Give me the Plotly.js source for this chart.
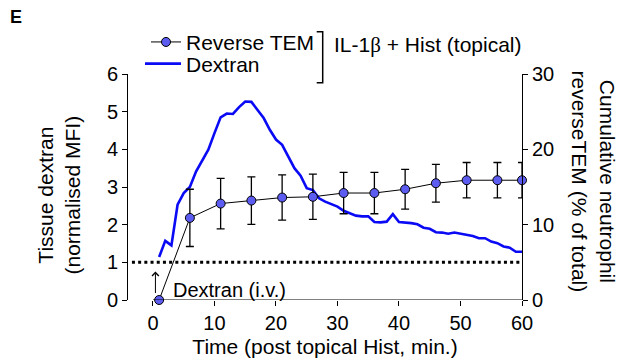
<!DOCTYPE html>
<html>
<head>
<meta charset="utf-8">
<script src="https://cdn.plot.ly/plotly-3.0.1.min.js"></script>
<style>html,body{margin:0;padding:0;background:#fff;}#chart{width:618px;height:362px;}</style>
</head>
<body>
<div id="chart"></div>
<script>
// Dextran (tissue, normalised MFI) - left axis
const dexTime = [1,2,3,4,5,6,7,8,9,10,11,12,13,14,15,16,17,18,19,20,21,22,23,24,25,26,27,28,29,30,31,32,33,34,35,36,37,38,39,40,41,42,43,44,45,46,47,48,49,50,51,52,53,54,55,56,57,58,59,60];
const dexValue = [1.14,1.57,1.45,2.53,2.84,3.0,3.41,3.72,3.99,4.43,4.85,4.95,4.94,5.12,5.27,5.26,5.05,4.83,4.52,4.26,4.12,3.81,3.50,3.30,2.97,2.92,2.70,2.61,2.55,2.48,2.37,2.30,2.24,2.22,2.22,2.07,2.06,2.08,2.28,2.07,2.06,2.04,2.01,1.92,1.89,1.80,1.79,1.76,1.79,1.76,1.75,1.70,1.64,1.64,1.55,1.51,1.42,1.39,1.28,1.28];

// Cumulative neutrophil reverse TEM (% of total) - right axis
const temTime = [1,6,11,16,21,26,31,36,41,46,51,56,60];
const temValue = [0,10.9,12.8,13.2,13.6,13.7,14.2,14.2,14.7,15.5,15.9,15.9,15.9];
const temError = [0,3.8,3.35,3.15,3.0,3.0,2.75,2.75,2.65,2.5,2.35,2.35,2.35];

const xTicks = [0,10,20,30,40,50,60];
const yLeftTicks = [0,1,2,3,4,5,6];
const yRightTicks = [0,10,20,30];
const baselineLevel = 1;

const FONT = 'Liberation Sans, Arial, Helvetica, sans-serif';
const TXT = 21;

const traces = [
  {
    x: dexTime, y: dexValue, name: 'Dextran', type: 'scatter', mode: 'lines',
    line: {color: 'rgb(10,10,245)', width: 2.6}, yaxis: 'y', legend: 'legend2',
    hoverinfo: 'skip'
  },
  {
    x: temTime, y: temValue, name: 'Reverse TEM', type: 'scatter', mode: 'lines+markers',
    line: {color: '#000', width: 1},
    marker: {size: 9, color: 'rgb(92,92,240)', line: {color: '#000', width: 1}},
    error_y: {type: 'data', array: temError, visible: true, color: '#000', thickness: 1.3, width: 4},
    yaxis: 'y2', legend: 'legend', cliponaxis: false, hoverinfo: 'skip'
  }
];

const L = 128, R = 522, T = 74, B = 300;
const px = v => (v - L) / (R - L);
const py = v => (B - v) / (B - T);
const yv = p => (B - p) / ((B - T) / 6);

const layout = {
  width: 618, height: 362,
  margin: {l: L, r: 618 - R, t: T, b: 362 - B, pad: 0},
  paper_bgcolor: '#fff', plot_bgcolor: '#fff',
  font: {family: FONT, size: 20, color: '#000'},
  title: {text: '<b>E</b>', font: {family: FONT, size: 18, color: '#000'},
    xref: 'container', yref: 'container', x: 10/618, xanchor: 'left', y: 1 - 17/362, yanchor: 'middle'},
  showlegend: true,
  legend: {x: px(146), xanchor: 'left', y: py(42.3), yanchor: 'middle', bgcolor: 'rgba(0,0,0,0)',
    font: {family: FONT, size: TXT, color: '#000'}, itemwidth: 30, borderwidth: 0},
  legend2: {x: px(140), xanchor: 'left', y: py(64), yanchor: 'middle', bgcolor: 'rgba(0,0,0,0)',
    font: {family: FONT, size: TXT, color: '#000'}, itemwidth: 36, borderwidth: 0},
  xaxis: {
    range: [-4.06, 60], tickvals: xTicks, ticktext: xTicks.map(String),
    ticks: 'outside', ticklen: 5, tickwidth: 1, tickcolor: '#000',
    showline: false, showgrid: false, zeroline: false,
    tickfont: {family: FONT, size: 20, color: '#000'},
    title: {text: 'Time (post topical Hist, min.)', font: {family: FONT, size: TXT, color: '#000'}, standoff: 6}
  },
  yaxis: {
    range: [0, 6], tickvals: yLeftTicks, ticktext: yLeftTicks.map(String),
    ticks: 'outside', ticklen: 5, tickwidth: 1, tickcolor: '#000',
    showline: true, linecolor: '#000', linewidth: 1,
    showgrid: false, zeroline: false,
    tickfont: {family: FONT, size: 20, color: '#000'}
  },
  yaxis2: {
    range: [0, 30], tickvals: yRightTicks, ticktext: yRightTicks.map(String),
    overlaying: 'y', side: 'right', anchor: 'x',
    ticks: 'outside', ticklen: 5, tickwidth: 1, tickcolor: '#000',
    showline: true, linecolor: '#000', linewidth: 1,
    showgrid: false, zeroline: false,
    tickfont: {family: FONT, size: 20, color: '#000'}
  },
  shapes: [
    {type: 'line', xref: 'x', yref: 'y', x0: 0, x1: 60, y0: 0, y1: 0, line: {color: '#000', width: 1}},
    {type: 'line', xref: 'paper', yref: 'y', x0: 0.01, x1: 0.995, y0: baselineLevel, y1: baselineLevel,
      line: {color: '#000', width: 3, dash: '3px,3.2px'}},
    {type: 'path', xref: 'paper', yref: 'paper',
      path: `M${px(316.7)},${py(31.7)} L${px(322.7)},${py(31.7)} L${px(322.7)},${py(82.7)} L${px(316.7)},${py(82.7)}`,
      line: {color: '#000', width: 1.5}}
  ],
  annotations: [
    {text: 'Tissue dextran<br>(normalised MFI)', xref: 'paper', yref: 'paper', x: px(58.5), y: py(195),
      textangle: -90, showarrow: false, xanchor: 'center', yanchor: 'middle', font: {family: FONT, size: TXT, color: '#000'}},
    {text: 'Cumulative neutrophil<br>reverseTEM (% of total)', xref: 'paper', yref: 'paper', x: px(594), y: py(181.5),
      textangle: 90, showarrow: false, xanchor: 'center', yanchor: 'middle', font: {family: FONT, size: TXT, color: '#000'}},
    {text: 'IL-1<span style="font-family:Liberation Serif">β</span> + Hist (topical)', xref: 'paper', yref: 'paper', x: px(331.7), y: py(45),
      showarrow: false, xanchor: 'left', yanchor: 'middle', font: {family: FONT, size: TXT, color: '#000'}},
    {text: 'Dextran (i.v.)', xref: 'x', yref: 'y', x: 3.0, y: yv(290),
      showarrow: false, xanchor: 'left', yanchor: 'middle', font: {family: FONT, size: 20, color: '#000'}},
    {text: '', xref: 'x', yref: 'y', x: 0.4, y: yv(271.5), ax: 0, ay: 22,
      font: {size: 1}, borderpad: 0,
      showarrow: true, arrowhead: 4, arrowsize: 1.3, arrowwidth: 1, arrowcolor: '#000', standoff: 0, startstandoff: 0}
  ]
};

Plotly.newPlot('chart', traces, layout, {staticPlot: true, displayModeBar: false});
</script>
</body>
</html>
